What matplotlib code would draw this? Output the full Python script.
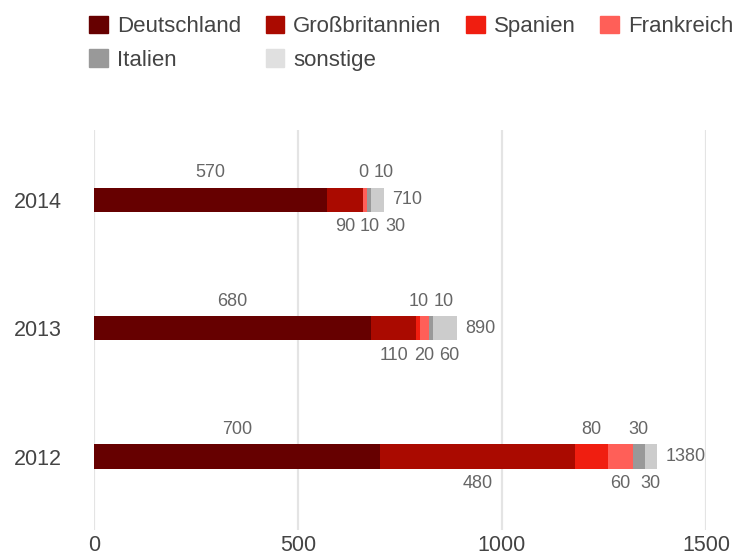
import matplotlib.pyplot as plt
from matplotlib.patches import Patch

plt.rcParams['font.family'] = ['Liberation Sans', 'DejaVu Sans']

years = ['2014', '2013', '2012']
series = ['Deutschland', 'Großbritannien', 'Spanien', 'Frankreich', 'Italien', 'sonstige']
colors = ['#660000', '#aa0a00', '#f01e10', '#ff5f58', '#999999', '#cccccc']
legend_colors = ['#660000', '#aa0a00', '#f01e10', '#ff5f58', '#999999', '#e0e0e0']

deutschland = [570, 680, 700]
grossbritannien = [90, 110, 480]
spanien = [0, 10, 80]
frankreich = [10, 20, 60]
italien = [10, 10, 30]
sonstige = [30, 60, 30]
values = [deutschland, grossbritannien, spanien, frankreich, italien, sonstige]

fig = plt.figure(figsize=(7.36, 5.59), dpi=100)
ax = fig.add_axes([0.1277, 0.052, 0.8315, 0.716])

pos = list(range(len(years)))
bar_h = 0.19
left = [0] * len(years)
labels = []  # (row, side, center, text)
for i, (name, vals, col) in enumerate(zip(series, values, colors)):
    ax.barh(pos, vals, left=left, height=bar_h, color=col, label=name)
    side = -1 if i % 2 == 0 else 1
    for r, v in enumerate(vals):
        c = left[r] + v / 2
        t = ax.text(c, r + side * 0.21, str(v), ha='center', va='center',
                    fontsize=13, color='#666666')
        labels.append((r, side, c, t))
    left = [a + b for a, b in zip(left, vals)]

for r, tot in enumerate(left):
    ax.text(tot + 20, r, str(tot), ha='left', va='center', fontsize=13, color='#666666')

ax.set_xlim(0, 1500)
ax.set_ylim(2.57, -0.545)
ax.set_xticks([0, 500, 1000, 1500])
ax.set_yticks(pos)
ax.set_yticklabels(years)
ax.tick_params(length=0, labelsize=15.5, labelcolor='#444444')
ax.tick_params(axis='y', pad=23)
ax.tick_params(axis='x', pad=4)
ax.grid(axis='x', color='#e4e4e4', linewidth=1.6)
ax.set_axisbelow(True)
for s in ax.spines.values():
    s.set_visible(False)

# push overlapping value labels to the right
fig.canvas.draw()
renderer = fig.canvas.get_renderer()
unit_px = ax.transData.transform((1, 0))[0] - ax.transData.transform((0, 0))[0]
for r in pos:
    for side in (-1, 1):
        group = sorted([l for l in labels if l[0] == r and l[1] == side], key=lambda l: l[2])
        prev_right = None
        for _, _, c, t in group:
            w = t.get_window_extent(renderer).width / unit_px
            x = c
            if prev_right is not None and x - w / 2 < prev_right + 5 / unit_px:
                x = prev_right + 5 / unit_px + w / 2
            t.set_x(x)
            prev_right = x + w / 2

handles = [Patch(color=c) for c in legend_colors]
order = [0, 4, 1, 5, 2, 3]
fig.legend([handles[i] for i in order], [series[i] for i in order],
           loc='upper left', bbox_to_anchor=(0.1, 1.0), ncol=4, frameon=False,
           fontsize=16, labelcolor='#444444', handlelength=0.85, handleheight=0.85,
           handletextpad=0.4, columnspacing=1.1, labelspacing=0.55,
           borderaxespad=0.3)

fig.savefig('out.png', dpi=100)
